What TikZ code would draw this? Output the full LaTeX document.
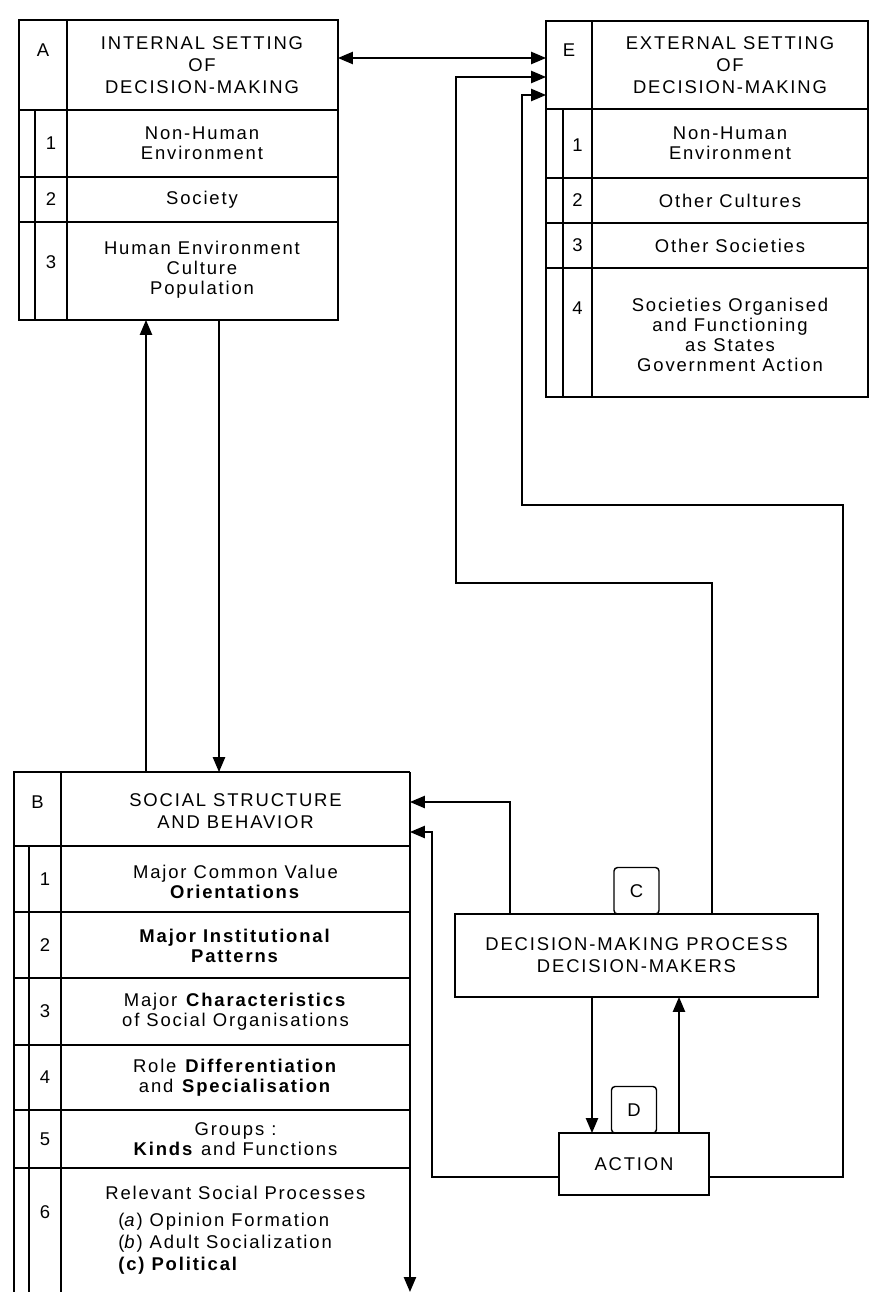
\documentclass[tikz,border=0pt]{standalone}
\usepackage{fontspec}
\setmainfont{Liberation Sans}[LetterSpace=10]
\usetikzlibrary{arrows.meta}

\begin{document}
\begin{tikzpicture}[x=0.02cm, y=-0.02cm,
      frame/.style={draw, line width=0.8pt, inner sep=0pt, outer sep=0pt},
      procbox/.style={draw, line width=0.8pt, inner sep=0pt, outer sep=0pt, align=center,
                      font=\fontsize{10.5}{12.5}\selectfont},
      tab/.style={draw, line width=0.8pt, rounded corners=2pt, minimum width=0.9cm,
                  minimum height=0.93cm, inner sep=0pt, outer sep=0pt, font=\fontsize{10.5}{12}\selectfont},
      head/.style={align=center, inner sep=0pt, font=\fontsize{10.5}{12.5}\selectfont},
      txt/.style={align=center, inner sep=0pt, font=\fontsize{10.5}{11.5}\selectfont},
      num/.style={inner sep=0pt, font=\fontsize{10.5}{12}\selectfont},
      arr/.style={line width=0.8pt, -{Triangle[length=8.5pt,width=7pt]}}]
      \useasboundingbox (0,0) rectangle (879,1294);
      % A: internal setting
      \node[frame, minimum width=6.38cm, minimum height=6cm] (A) at (178.5,170) {};
      \draw[line width=0.8pt] (67,20) -- (67,320) (19,110) -- (338,110) (35,110) -- (35,320)
                              (19,177) -- (338,177) (19,222) -- (338,222);
      \node[num] (Alab) at (43,50) {A};
      \node[head] (Ahead) at (202,65) {INTERNAL SETTING\\OF\\DECISION-MAKING};
      \node[num] (a1n) at (51,143.5) {1};
      \node[txt] (a1) at (202,143.5) {Non-Human\\Environment};
      \node[num] (a2n) at (51,199.5) {2};
      \node[txt] (a2) at (202,199.5) {Society};
      \node[num] (a3n) at (51,262) {3};
      \node[txt] (a3) at (202,270) {Human Environment\\Culture\\Population};
      % E: external setting
      \node[frame, minimum width=6.44cm, minimum height=7.52cm] (E) at (707,209) {};
      \draw[line width=0.8pt] (592,21) -- (592,397) (546,109) -- (868,109) (563,109) -- (563,397)
                              (546,178) -- (868,178) (546,223) -- (868,223) (546,268) -- (868,268);
      \node[num] (Elab) at (569,50) {E};
      \node[head] (Ehead) at (730,65) {EXTERNAL SETTING\\OF\\DECISION-MAKING};
      \node[num] (e1n) at (577.5,145) {1};
      \node[txt] (e1) at (730,143.5) {Non-Human\\Environment};
      \node[num] (e2n) at (577.5,200.5) {2};
      \node[txt] (e2) at (730,200.5) {Other Cultures};
      \node[num] (e3n) at (577.5,245.5) {3};
      \node[txt] (e3) at (730,245.5) {Other Societies};
      \node[num] (e4n) at (577.5,308) {4};
      \node[txt] (e4) at (730,335) {Societies Organised\\and Functioning\\as States\\Government Action};
      % B: social structure (runs on below the page)
      \node[inner sep=0pt, outer sep=0pt, minimum width=7.92cm, minimum height=10.4cm] (B) at (212,1032) {};
      \draw[line width=0.8pt] (B.south west) |- (B.north east);
      \draw[arr] (B.north east) -- (B.south east);
      \draw[line width=0.8pt] (61,772) -- (61,1292) (29,846) -- (29,1292) (14,846) -- (410,846)
                              (14,912) -- (410,912) (14,978) -- (410,978) (14,1045) -- (410,1045)
                              (14,1110) -- (410,1110) (14,1168) -- (410,1168);
      \node[num] (Blab) at (37.5,802) {B};
      \node[head] (Bhead) at (235.5,811) {SOCIAL STRUCTURE\\AND BEHAVIOR};
      \node[num] (b1n) at (45,879) {1};
      \node[txt] (b1) at (235.5,882) {Major Common Value\\\textbf{Orientations}};
      \node[num] (b2n) at (45,945) {2};
      \node[txt] (b2) at (235.5,946) {\textbf{Major Institutional}\\\textbf{Patterns}};
      \node[num] (b3n) at (45,1011.5) {3};
      \node[txt] (b3) at (235.5,1011.5) {Major \textbf{Characteristics}\\of Social Organisations};
      \node[num] (b4n) at (45,1077.5) {4};
      \node[txt] (b4) at (235.5,1077.5) {Role \textbf{Differentiation}\\and \textbf{Specialisation}};
      \node[num] (b5n) at (45,1139) {5};
      \node[txt] (b5) at (235.5,1139) {Groups :\\\textbf{Kinds} and Functions};
      \node[num] (b6n) at (45,1212) {6};
      \node[txt] (b6) at (235.5,1193) {Relevant Social Processes};
      \node[txt, align=left, anchor=west, font=\fontsize{10.5}{12.5}\selectfont] (b6list) at (118,1244)
            {(\textit{a}) Opinion Formation\\(\textit{b}) Adult Socialization\\\textbf{(c) Political}};
      % C and D
      \node[procbox, minimum width=7.26cm, minimum height=1.66cm] (C) at (636.5,955.5)
            {DECISION-MAKING PROCESS\\DECISION-MAKERS};
      \node[tab, anchor=south] (Ctab) at (C.north) {C};
      \node[procbox, minimum width=3cm, minimum height=1.24cm] (act) at (634,1164) {ACTION};
      \node[tab, anchor=south] (Dtab) at (act.north) {D};
      % Links between the settings
      \draw[line width=0.8pt, {Triangle[length=8.5pt,width=7pt]}-{Triangle[length=8.5pt,width=7pt]}]
            (A.east |- 0,58) -- (E.west |- 0,58);
      \draw[arr] (B.north -| 146,0) -- (A.south -| 146,0);
      \draw[arr] (A.south -| 219,0) -- (B.north -| 219,0);
      % Feedback from C and D
      \draw[arr] (C.north -| 510,0) |- (B.east |- 0,802);
      \draw[arr] (act.west |- 0,1177) -| (432,832) -- (B.east |- 0,832);
      \draw[arr] (C.north -| 712,0) |- (456,583) |- (E.west |- 0,77);
      \draw[arr] (act.east |- 0,1177) -| (843,505) -| (522,95) -- (E.west |- 0,95);
      \draw[arr] (C.south -| 592,0) -- (act.north -| 592,0);
      \draw[arr] (act.north -| 679,0) -- (C.south -| 679,0);
    \end{tikzpicture}
\end{document}
